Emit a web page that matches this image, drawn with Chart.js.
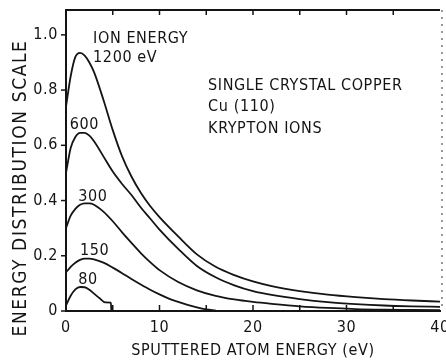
<!DOCTYPE html>
<html>
<head>
<meta charset="utf-8">
<title>Sputtered atom energy distribution</title>
<script src="https://cdn.jsdelivr.net/npm/chart.js@4.4.1/dist/chart.umd.min.js"></script>
<style>
  html, body { margin: 0; padding: 0; background: #fff; }
  #wrap { width: 446px; height: 360px; }
</style>
</head>
<body>
<div id="wrap"><canvas id="chart" width="446" height="360"></canvas></div>
<script>
// ---- data ----
const energies = [0, 0.5, 1, 1.5, 2, 2.5, 3, 4, 5, 6, 7, 8, 9, 10, 12, 14, 16, 18, 20, 22, 25, 28, 31, 34, 37, 40];
const dist1200 = [0.74, 0.85, 0.92, 0.935, 0.925, 0.90, 0.865, 0.765, 0.655, 0.56, 0.487, 0.428, 0.38, 0.34, 0.27, 0.205, 0.16, 0.13, 0.107, 0.09, 0.072, 0.059, 0.05, 0.043, 0.038, 0.034];
const dist600 = [0.50, 0.59, 0.63, 0.645, 0.645, 0.635, 0.615, 0.56, 0.505, 0.46, 0.42, 0.375, 0.335, 0.295, 0.225, 0.163, 0.122, 0.093, 0.072, 0.058, 0.043, 0.032, 0.025, 0.02, 0.017, 0.015];
const dist300 = [0.30, 0.345, 0.37, 0.385, 0.39, 0.39, 0.385, 0.36, 0.325, 0.285, 0.247, 0.21, 0.177, 0.148, 0.105, 0.075, 0.055, 0.042, 0.033, 0.026, 0.017, 0.011, 0.007, 0.005, 0.004, 0.003];
const energies150 = [0, 0.5, 1, 1.5, 2, 2.5, 3, 4, 5, 6, 7, 8, 9, 10, 11, 12, 13, 14, 15, 16];
const dist150 = [0.14, 0.16, 0.175, 0.185, 0.19, 0.19, 0.187, 0.175, 0.157, 0.137, 0.116, 0.096, 0.077, 0.06, 0.045, 0.033, 0.022, 0.013, 0.006, 0.002];
const energies80 = [0, 0.5, 1, 1.5, 2, 2.5, 3, 3.6, 4.2, 4.8, 4.85];
const dist80 = [0.02, 0.055, 0.078, 0.087, 0.086, 0.077, 0.063, 0.046, 0.031, 0.03, 0];

const xTicks = [0, 10, 20, 30, 40];
const xMinorTicks = [5, 10, 15, 20, 25, 30, 35];
const yTicks = [0, 0.2, 0.4, 0.6, 0.8, 1.0];

// curve labels and the note block, placed in data units
const noteTexts = ['ION ENERGY', '1200 eV', '600', '300', '150', '80', 'SINGLE CRYSTAL COPPER', 'Cu (110)', 'KRYPTON IONS'];
const noteX = [2.9, 2.9, 0.4, 1.3, 1.5, 1.3, 15.2, 15.2, 15.2];
const noteY = [0.985, 0.917, 0.674, 0.413, 0.217, 0.112, 0.817, 0.74, 0.66];

const INK = '#141414';
const FONT = "'DejaVu Sans Condensed', 'Liberation Sans Narrow', 'DejaVu Sans', sans-serif";

const toPoints = (xs, ys) => xs.map((v, i) => ({ x: v, y: ys[i] }));

const curve = (label, pts) => ({
  label, data: pts,
  borderColor: INK, borderWidth: 1.8,
  pointRadius: 0, fill: false,
  cubicInterpolationMode: 'monotone',
});

// frame, inward ticks, labels
const annotate = {
  id: 'annotate',
  beforeDraw(chart) {
    chart.ctx.letterSpacing = '0.6px';
  },
  afterDraw(chart) {
    const { ctx, chartArea: a, scales: { x, y } } = chart;
    ctx.save();
    ctx.strokeStyle = INK;
    ctx.lineWidth = 2;
    ctx.beginPath();
    ctx.moveTo(a.left - 1, a.top);
    ctx.lineTo(a.right, a.top);
    ctx.stroke();

    // faint dotted right edge
    ctx.lineWidth = 1.2;
    ctx.strokeStyle = '#555';
    ctx.setLineDash([2, 5]);
    ctx.beginPath();
    ctx.moveTo(a.right + 2, a.top);
    ctx.lineTo(a.right + 2, a.bottom);
    ctx.stroke();
    ctx.setLineDash([]);

    ctx.strokeStyle = INK;
    ctx.lineWidth = 1.5;
    xMinorTicks.forEach(v => {
      const px = x.getPixelForValue(v);
      ctx.beginPath();
      ctx.moveTo(px, a.bottom);
      ctx.lineTo(px, a.bottom - 6);
      ctx.moveTo(px, a.top);
      ctx.lineTo(px, a.top + 5);
      ctx.stroke();
    });
    yTicks.forEach(v => {
      const py = y.getPixelForValue(v);
      ctx.beginPath();
      ctx.moveTo(a.left, py);
      ctx.lineTo(a.left - 5, py);
      ctx.stroke();
    });

    ctx.fillStyle = INK;
    ctx.font = '16px ' + FONT;
    ctx.letterSpacing = '0.6px';
    ctx.textAlign = 'left';
    ctx.textBaseline = 'middle';
    noteTexts.forEach((t, i) => {
      ctx.fillText(t, x.getPixelForValue(noteX[i]), y.getPixelForValue(noteY[i]));
    });

    // y axis title
    ctx.translate(21, 188);
    ctx.rotate(-Math.PI / 2);
    ctx.textAlign = 'center';
    ctx.font = '19px ' + FONT;
    ctx.letterSpacing = '1.6px';
    ctx.fillText('ENERGY DISTRIBUTION SCALE', 0, 0);
    ctx.restore();
  }
};

new Chart(document.getElementById('chart'), {
  type: 'line',
  data: {
    datasets: [
      curve('1200 eV', toPoints(energies, dist1200)),
      curve('600 eV', toPoints(energies, dist600)),
      curve('300 eV', toPoints(energies, dist300)),
      curve('150 eV', toPoints(energies150, dist150)),
      curve('80 eV', toPoints(energies80, dist80)),
    ]
  },
  options: {
    responsive: false,
    animation: false,
    devicePixelRatio: 1,
    layout: { padding: { top: 10, right: 6, left: 0, bottom: 0 } },
    plugins: { legend: { display: false }, tooltip: { enabled: false } },
    scales: {
      x: {
        type: 'linear', min: 0, max: 40,
        afterFit: s => { s.height = 49; s.paddingLeft = 0; s.paddingRight = 0; },
        afterBuildTicks: s => { s.ticks = xTicks.map(v => ({ value: v })); },
        grid: { display: false, drawTicks: false },
        border: { display: true, color: INK, width: 2 },
        ticks: { color: INK, padding: 7, maxRotation: 0, font: { family: FONT, size: 16 } },
        title: {
          display: true, text: 'SPUTTERED ATOM ENERGY (eV)', color: INK,
          padding: { top: 0, bottom: 0 }, font: { family: FONT, size: 16 }
        }
      },
      y: {
        type: 'linear', min: 0, max: 1.09,
        afterFit: s => { s.width = 66; s.paddingTop = 0; s.paddingBottom = 0; },
        afterBuildTicks: s => { s.ticks = yTicks.map(v => ({ value: v })); },
        grid: { display: false, drawTicks: false },
        border: { display: true, color: INK, width: 2 },
        ticks: {
          color: INK, padding: 8, font: { family: FONT, size: 16 },
          callback: v => v === 0 ? '0' : Number(v).toFixed(1)
        }
      }
    }
  },
  plugins: [annotate]
});
</script>
</body>
</html>
